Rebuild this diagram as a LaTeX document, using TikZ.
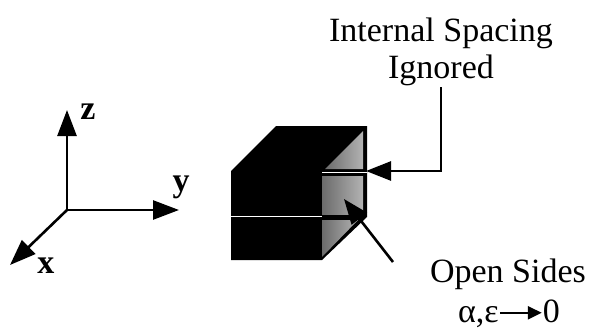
\documentclass[tikz,border=0pt]{standalone}
\usepackage{fontspec}
\setmainfont{Liberation Serif}
\usetikzlibrary{arrows.meta}
\tikzset{
 x=1pt,y=-1pt,
 lab/.style={font=\fontsize{34}{37.5}\selectfont,inner sep=0pt,align=center,text=black},
 axlab/.style={font=\fontsize{34}{36}\selectfont\bfseries,inner sep=0pt},
 ptr/.style={line width=2.6pt,-{Triangle[length=25pt,width=19pt]}},
 axis/.style={line width=2.6pt,-{Triangle[length=26pt,width=19pt]}},
 panel/.style={left color=black!58,right color=black!30,draw=none}
}
\begin{document}
\begin{tikzpicture}
\useasboundingbox (0,0) rectangle (590,332);
% axes
\coordinate (o) at (67,210);
\coordinate (zt) at (67,110);
\coordinate (yt) at (179,210);
\coordinate (xt) at (10,265);
\draw[axis] (o) -- (zt);
\draw[axis] (o) -- (yt);
\draw[axis] (o) -- (xt);
\node[axlab] (zl) at (88,112) {z};
\node[axlab] (yl) at (181,187) {y};
\node[axlab] (xl) at (46,266) {x};
% cube
\fill[black] (231,171) -- (276,126) -- (367,126) -- (367,217) -- (322,260) -- (231,260) -- cycle;
\fill[panel] (325,169) -- (363,131) -- (363,169) -- cycle;
\fill[panel] (322,176) -- (363,176) -- (363,214) -- (322,214) -- cycle;
\fill[panel] (322,220) -- (358,220) -- (322,257) -- cycle;
\draw[white,line width=1pt] (322,172) -- (367,172);
\draw[white,line width=1pt] (231,216) -- (322,216);
% labels
\node[lab] (sp) at (441,52) {Internal Spacing\\Ignored};
\node[lab] (os) at (508,274) {Open Sides};
\node[lab] (ae) at (509,314) {α,ε\raisebox{0.1em}{\tikz[x=1pt,y=1pt]\draw[line width=2.4pt,-{Triangle[length=14pt,width=13pt]}] (0,0) -- (42,0);}0};
% pointers
\coordinate (c2) at (441,171);
\coordinate (tip1) at (366,171);
\coordinate (s1) at (441,87);
\draw[ptr] (s1) -- (c2) -- (tip1);
\coordinate (t2) at (344,199);
\coordinate (s2) at (393,262);
\draw[ptr] (s2) -- (t2);
\end{tikzpicture}
\end{document}
